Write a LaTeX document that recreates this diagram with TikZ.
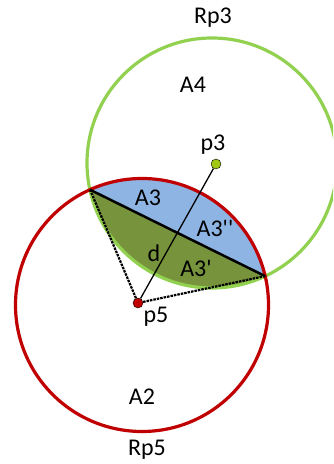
\documentclass[tikz,border=0pt]{standalone}
\usepackage{fontspec}
\newfontfamily\lblfont{Carlito}
\usepackage{xcolor}
\definecolor{rgreen}{RGB}{146,208,80}
\definecolor{rred}{RGB}{192,0,0}
\definecolor{rblue}{RGB}{142,180,227}
\definecolor{rolive}{RGB}{119,147,60}
\definecolor{rlime}{RGB}{160,200,20}
\usepackage{tikz}
\tikzset{
  lbl/.style={font=\lblfont\fontsize{24}{26}\selectfont,inner sep=0pt},
  ctr/.style={circle,draw=black,thin,minimum size=10pt,inner sep=0pt},
  rayline/.style={line width=2.2pt,dash pattern=on 2.5pt off 1pt},
}

\begin{document}
\begin{tikzpicture}[x=1pt,y=1pt]
\useasboundingbox (0,0) rectangle (333,464);
\clip (0,0) rectangle (333,464);
% kreise: Rp5 (rot) und Rp3 (gruen)
\coordinate (c5) at (142,159);
\coordinate (c3) at (212,301);
\coordinate (sl) at (90,274.3);
\coordinate (sr) at (265.1,187.9);
% linse
\begin{scope}
\clip (c5) circle[radius=126.5];
\fill[rblue] (c3) circle[radius=125];
\clip (c3) circle[radius=125];
\fill[rolive] (sl) -- (sr) -- ([yshift=-150]sr) -- ([yshift=-150]sl) -- cycle;
\end{scope}
\draw[rgreen,line width=3.2pt] (c3) circle[radius=125];
\draw[rred,line width=3.2pt] (c5) circle[radius=126.5];
% mittelpunkte
\node[ctr,fill=rred] (p5) at (138,161) {};
\node[ctr,fill=rlime] (p3) at (216,300) {};
% sehne und strahlen
\draw[line width=2.5pt] (sl) -- (sr);
\draw[rayline] (p5) -- (sl);
\draw[rayline] (p5) -- (sr);
\draw[line width=1.3pt] (p5) -- (p3);
% beschriftung
\node[lbl] (lRp3) at (213,446) {Rp3};
\node[lbl] (lA4) at (193,379) {A4};
\node[lbl] (lp3) at (213,319) {p3};
\node[lbl] (lA3) at (148,266) {A3};
\node[lbl] (lA3b) at (215,236) {A3''};
\node[lbl] (ld) at (154,211) {d};
\node[lbl] (lA3a) at (196,196) {A3'};
\node[lbl] (lp5) at (156,147) {p5};
\node[lbl] (lA2) at (142,67) {A2};
\node[lbl] (lRp5) at (147,14) {Rp5};
\end{tikzpicture}
\end{document}
